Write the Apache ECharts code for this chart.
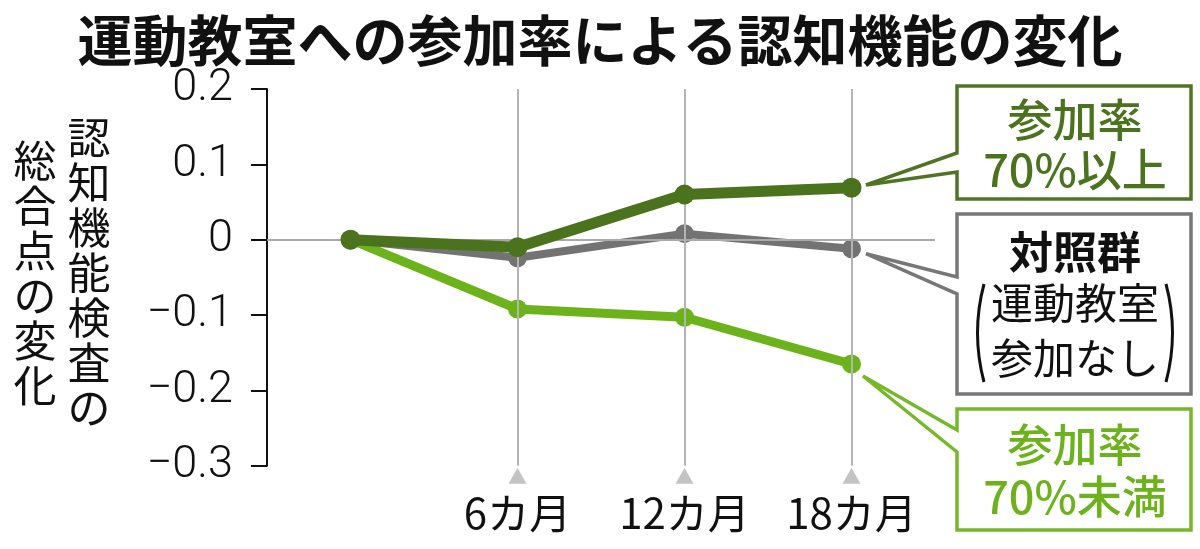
<!DOCTYPE html>
<html>
<head>
<meta charset="utf-8">
<script src="https://cdn.jsdelivr.net/npm/echarts@6/dist/echarts.min.js"></script>
<style>
html,body{margin:0;padding:0;background:#fff;}
#chart{width:1200px;height:549px;}
</style>
</head>
<body>
<div id="chart"></div>
<script>
// ---- data ----
const categories = ['', '6カ月', '12カ月', '18カ月'];
const seriesHigh = [0, -0.01, 0.06, 0.069];      // 参加率70%以上
const seriesControl = [0, -0.024, 0.008, -0.012]; // 対照群
const seriesLow = [0, -0.092, -0.103, -0.165];   // 参加率70%未満
const yTicks = [-0.3, -0.2, -0.1, 0, 0.1, 0.2];
const yTickLabels = ['−0.3', '−0.2', '−0.1', '0', '0.1', '0.2'];
const titleText = '運動教室への参加率による認知機能の変化';
const yNameCol1 = '認知機能検査の';
const yNameCol2 = '総合点の変化';
const labelHigh = ['参加率', '70%以上'];
const labelControl = ['対照群', '運動教室', '参加なし'];
const labelLow = ['参加率', '70%未満'];

const C_HIGH = '#4b721d';
const C_CTRL = '#737373';
const C_LOW = '#6cb21a';
const JP = '"Noto Sans CJK JP", "Noto Sans", sans-serif';

const yMin = yTicks[0], yMax = yTicks[yTicks.length - 1];

const chart = echarts.init(document.getElementById('chart'));
chart.setOption({
  animation: false,
  backgroundColor: '#fff',
  title: {
    text: titleText,
    left: 'center',
    top: 8,
    textStyle: { fontFamily: JP, fontSize: 55, fontWeight: 'bold', color: '#111' }
  },
  grid: { left: 267, right: 265, top: 89, bottom: 83.3 },
  xAxis: {
    type: 'category',
    data: categories,
    boundaryGap: true,
    axisLine: { show: false },
    axisTick: { show: false },
    splitLine: { show: false },
    axisLabel: { fontFamily: JP, fontSize: 42, color: '#111', margin: 26, interval: 0 }
  },
  yAxis: {
    type: 'value',
    min: yMin, max: yMax, interval: 0.1,
    axisLine: { show: true, lineStyle: { color: '#111', width: 2 } },
    axisTick: { show: true, length: 16, lineStyle: { color: '#111', width: 2 } },
    splitLine: { show: false },
    axisLabel: {
      fontFamily: 'Roboto, "Liberation Sans", sans-serif',
      fontWeight: 300,
      fontSize: 45,
      color: '#111',
      margin: 34,
      formatter: function (v) {
        const i = yTicks.findIndex(t => Math.abs(t - v) < 1e-9);
        return i >= 0 ? yTickLabels[i] : '';
      }
    }
  },
  series: [
    {
      name: 'guides',
      type: 'scatter',
      z: 1,
      silent: true,
      clip: false,
      symbol: 'triangle',
      symbolSize: [18, 16],
      symbolOffset: [0, 10],
      itemStyle: { color: '#b4b4b4' },
      data: categories.slice(1).map(c => [c, yMin]),
      markLine: {
        silent: true,
        symbol: 'none',
        label: { show: false },
        lineStyle: { type: 'solid' },
        data: [
          [{ coord: [categories[1], yMax], lineStyle: { color: '#b4b4b4', width: 2 } }, { coord: [categories[1], yMin] }],
          [{ coord: [categories[2], yMax], lineStyle: { color: '#b4b4b4', width: 2 } }, { coord: [categories[2], yMin] }],
          [{ coord: [categories[3], yMax], lineStyle: { color: '#b4b4b4', width: 2 } }, { coord: [categories[3], yMin] }],
          { yAxis: 0, lineStyle: { color: '#aaaaaa', width: 2 } }
        ]
      }
    },
    {
      name: '参加率70%未満', type: 'line', z: 3, data: seriesLow,
      symbol: 'circle', symbolSize: 19,
      lineStyle: { color: C_LOW, width: 9 }, itemStyle: { color: C_LOW }
    },
    {
      name: '対照群', type: 'line', z: 4, data: seriesControl,
      symbol: 'circle', symbolSize: 19,
      lineStyle: { color: C_CTRL, width: 8 }, itemStyle: { color: C_CTRL }
    },
    {
      name: '参加率70%以上', type: 'line', z: 5, data: seriesHigh,
      symbol: 'circle', symbolSize: 20,
      lineStyle: { color: C_HIGH, width: 11 }, itemStyle: { color: C_HIGH }
    }
  ]
});

// ---- callouts & vertical axis name ----
const last = categories.length - 1;
const pHigh = chart.convertToPixel({ gridIndex: 0 }, [last, seriesHigh[last]]);
const pCtrl = chart.convertToPixel({ gridIndex: 0 }, [last, seriesControl[last]]);
const pLow = chart.convertToPixel({ gridIndex: 0 }, [last, seriesLow[last]]);

const BL = 957, BR = 1191, CX = 1075;
function bubble(T, B, a1, a2, tip, color) {
  return {
    type: 'polygon', z: 10,
    shape: { points: [[BL, a1], [BL, T], [BR, T], [BR, B], [BL, B], [BL, a2], tip] },
    style: { fill: '#fff', stroke: color, lineWidth: 3.5, lineJoin: 'miter' }
  };
}
function txt(s, x, y, size, color, weight) {
  return {
    type: 'text', z: 11,
    style: { text: s, x: x, y: y, fill: color, font: (weight || 'normal') + ' ' + size + 'px ' + JP,
      textAlign: 'center', textVerticalAlign: 'middle' }
  };
}
function vtext(s, x, top, size, lh) {
  return {
    type: 'text', z: 11,
    style: { text: s.split('').join('\n'), x: x, y: top, fill: '#111',
      font: 'normal ' + size + 'px ' + JP, lineHeight: lh,
      textAlign: 'center', textVerticalAlign: 'top' }
  };
}

chart.setOption({
  graphic: [
    vtext(yNameCol1, 89, 115, 43, 45),
    vtext(yNameCol2, 35, 138, 43, 45),
    bubble(86, 199, 153, 172, [pHigh[0] + 14.5, pHigh[1] - 2.7], '#4f7424'),
    bubble(214, 394, 277, 294, [pCtrl[0] + 14.5, pCtrl[1] + 5], '#777777'),
    bubble(409, 530, 430, 452, [pLow[0] + 11.5, pLow[1] + 12], '#76b82a'),
    txt(labelHigh[0], CX, 120, 45, C_HIGH, 500),
    txt(labelHigh[1], CX, 170, 45, C_HIGH, 500),
    txt(labelControl[0], CX, 252, 44, '#111', 'bold'),
    txt(labelControl[1], CX, 303, 42, '#111', 'normal'),
    txt(labelControl[2], CX, 358, 42, '#111', 'normal'),
    { type: 'bezierCurve', z: 11, shape: { x1: 984, y1: 284, cpx1: 971, cpy1: 333, x2: 984, y2: 382 },
      style: { stroke: '#111', lineWidth: 3, fill: null } },
    { type: 'bezierCurve', z: 11, shape: { x1: 1166, y1: 284, cpx1: 1179, cpy1: 333, x2: 1166, y2: 382 },
      style: { stroke: '#111', lineWidth: 3, fill: null } },
    txt(labelLow[0], CX, 445, 45, C_LOW, 500),
    txt(labelLow[1], CX, 497, 45, C_LOW, 500)
  ]
});
</script>
</body>
</html>
